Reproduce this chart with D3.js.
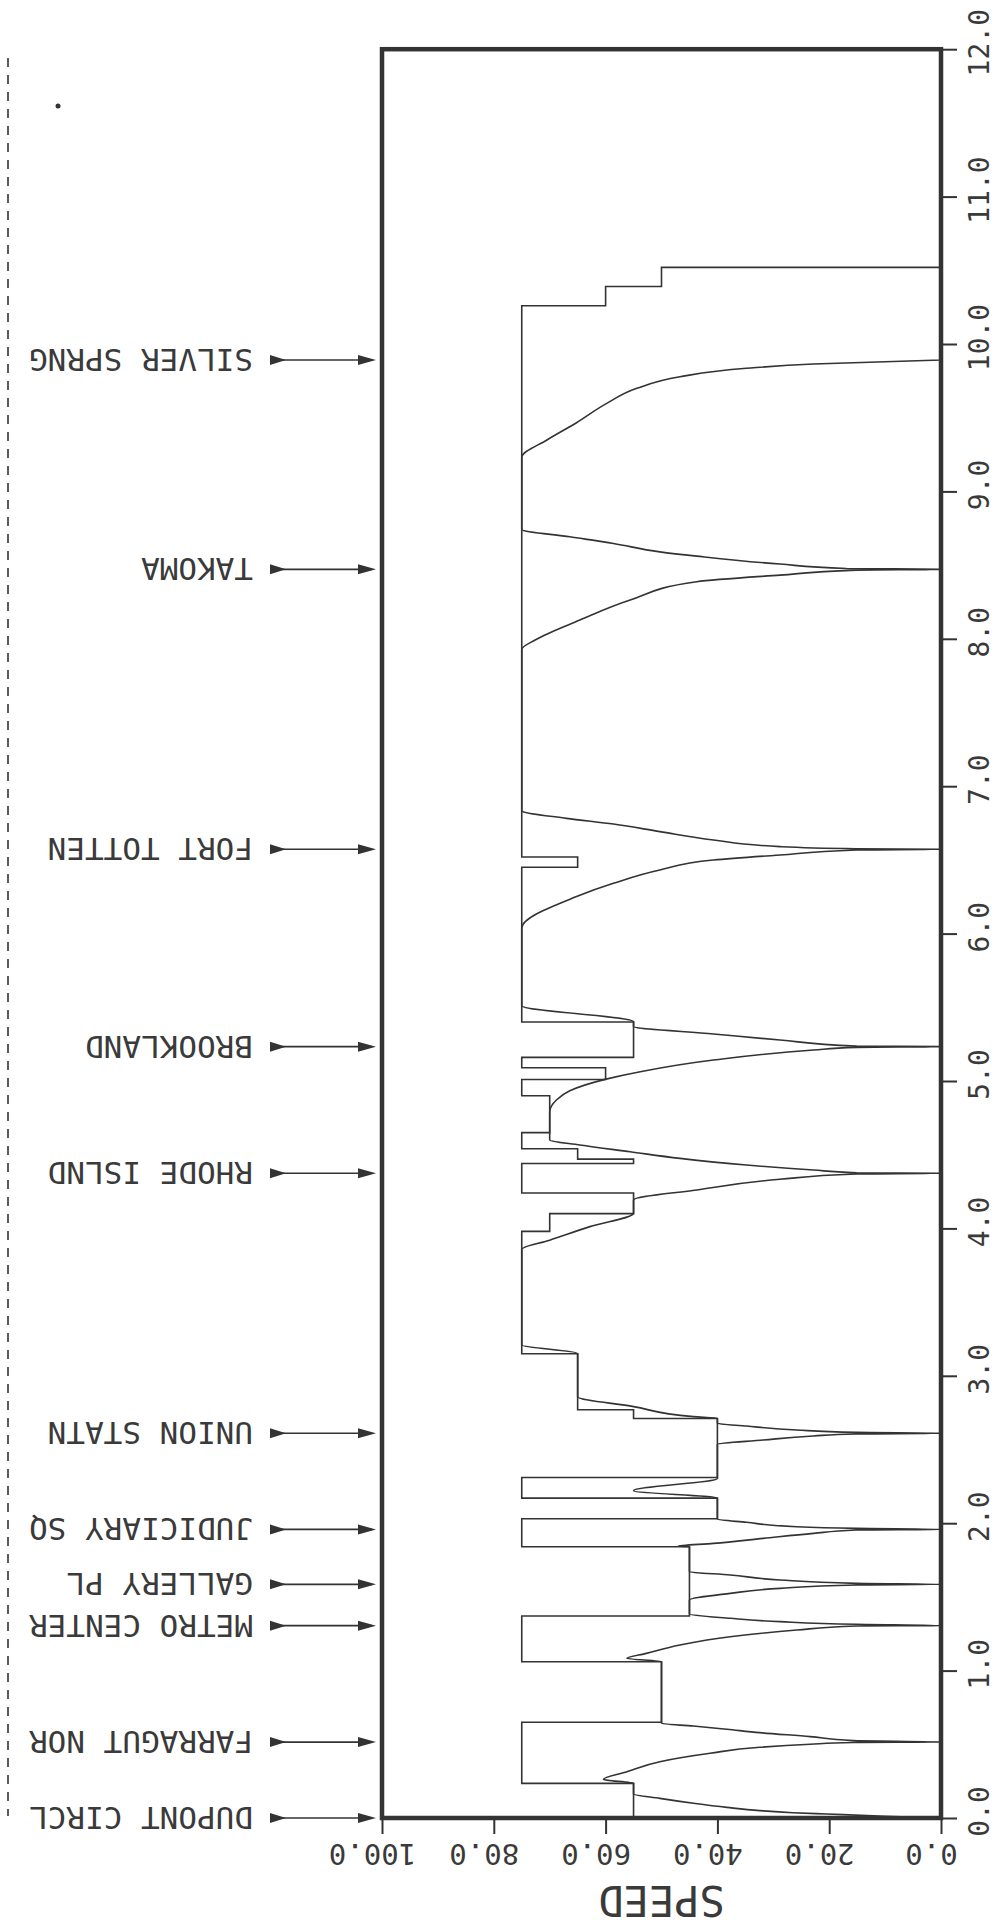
<!DOCTYPE html>
<html><head><meta charset="utf-8">
<script src="https://cdn.jsdelivr.net/npm/d3@7"></script>
<style>
html,body{margin:0;padding:0;background:#fff;}
svg text{font-family:"DejaVu Sans Mono","Liberation Mono",monospace;fill:#3a3a3a;}
</style></head>
<body>
<script>
// ---------- DATA ----------
const distTicks = [0,1,2,3,4,5,6,7,8,9,10,11,12];
const speedTicks = [0,20,40,60,80,100];
const stationNames = ["DUPONT CIRCL","FARRAGUT NOR","METRO CENTER","GALLERY PL","JUDICIARY SQ","UNION STATN","RHODE ISLND","BROOKLAND","FORT TOTTEN","TAKOMA","SILVER SPRNG"];
const stationDist = [0.0,0.515,1.305,1.585,1.958,2.610,4.374,5.233,6.572,8.471,9.891];

// speed limit: segment starts (miles), speeds (mph), end of last segment
const limitStart = [0,0.235,0.65,1.06,1.37,1.84,2.03,2.17,2.31,2.71,2.77,3.15,3.98,4.10,4.24,4.44,4.47,4.54,4.65,4.90,5.01,5.09,5.16,5.40,6.45,6.52,10.26,10.39];
const limitSpeed = [55,75,50,75,45,75,40,75,40,55,65,75,70,55,75,55,65,75,70,75,60,75,55,75,65,75,60,50];
const limitEnd = 10.52;

// train speed profile
const trainDist = [0,0.012,0.027,0.036,0.05,0.072,0.10,0.133,0.163,0.235,0.262,0.314,0.382,0.439,0.48,0.50,0.512,0.515,
 0.525,0.552,0.579,0.602,0.624,0.642,1.06,1.083,1.117,1.174,1.230,1.275,1.303,1.305,
 1.314,1.332,1.355,1.384,1.479,1.524,1.558,1.581,1.585,
 1.592,1.615,1.649,1.671,1.841,1.845,1.863,1.897,1.931,1.954,1.958,
 1.965,1.976,2.006,2.028,2.169,2.221,2.304,2.535,2.564,2.592,2.605,2.610,
 2.616,2.632,2.659,2.678,2.711,2.723,2.791,2.858,3.152,3.209,3.858,3.92,4.012,4.102,4.193,4.261,4.333,4.369,4.374,
 4.378,4.396,4.430,4.475,4.52,4.566,4.60,4.79,4.871,4.934,5.011,5.063,5.142,5.21,5.228,5.233,
 5.237,5.278,5.319,5.369,5.402,5.511,6.036,6.251,6.341,6.431,6.499,6.533,6.567,6.572,
 6.576,6.59,6.635,6.692,6.743,6.782,6.834,7.928,7.992,8.127,8.263,8.387,8.432,8.466,8.471,
 8.477,8.507,8.561,8.59,8.647,8.692,8.742,9.231,9.349,9.466,9.597,9.699,9.778,9.835,9.864,9.891];
const trainSpeed = [0,10,20.4,26.5,32.4,38.3,44.3,50.3,55,55,60.4,56.2,50.3,41.3,32.4,23.4,15.7,0,
 15.7,23.4,32.4,38.3,44.3,50,50,56.2,52.7,46.7,37.7,25.8,15.1,0,
 15.1,28.8,37.7,45,45,37.7,28.8,15.1,0,
 15.1,28.8,37.7,45,45,47,40.7,31.8,22.8,15.1,0,
 15.1,25.8,34.8,40,40,55,40,40,31.8,22.8,15.1,0,
 15.1,25.8,34.8,40,40,44.3,55,65,65,75,75,70,62.8,55,55,43.7,28.8,15.1,0,
 15.1,22.8,34.8,46.7,55.6,64.6,70,70,68.8,66.4,60.1,53.8,40.7,22.8,15.1,0,
 15.1,28.8,40.7,55,55,75,75,65.2,58.6,50.3,40.7,28.8,15.1,0,
 15.1,28.8,40.7,50.3,58.6,67,75,75,72.6,64.6,55.6,43.7,28.8,15.1,0,
 16.9,28.8,43.7,50.3,58.6,66.4,75,75,70.5,65.2,59.8,54.4,46.7,34.8,22.8,0];

// ---------- DRAWING ----------
const W = 1004, H = 1925;
const svg = d3.select("body").append("svg").attr("width",W).attr("height",H);
const ink = "#333";

const y = d3.scaleLinear().domain([0,12]).range([1818,49.2]);   // distance (vertical)
const x = d3.scaleLinear().domain([0,100]).range([941,382]);    // speed (horizontal, reversed)

// edge dashed line and dot
svg.append("line").attr("x1",8).attr("x2",8).attr("y1",58).attr("y2",1816)
  .attr("stroke",ink).attr("stroke-width",1.6).attr("stroke-dasharray","9,8");
svg.append("circle").attr("cx",58).attr("cy",106).attr("r",2.5).attr("fill",ink);

// right axis (distance)
const gR = svg.append("g").attr("transform",`translate(${x(0)},0)`)
  .call(d3.axisRight(y).tickValues(distTicks).tickSize(16).tickFormat(d3.format(".1f")));
gR.select(".domain").remove();
gR.selectAll("line").attr("stroke",ink).attr("stroke-width",2);
gR.selectAll("text").attr("x",null).attr("dy",null)
  .attr("transform","translate(38,-7) rotate(-90)")
  .attr("text-anchor","middle").attr("dominant-baseline","central")
  .attr("font-size",28).attr("fill","#3a3a3a");

// bottom axis (speed)
const gB = svg.append("g").attr("transform",`translate(0,${y(0)})`)
  .call(d3.axisBottom(x).tickValues(speedTicks).tickSize(16).tickFormat(d3.format(".1f")));
gB.select(".domain").remove();
gB.selectAll("line").attr("stroke",ink).attr("stroke-width",2);
gB.selectAll("text").attr("y",null).attr("dy",null)
  .attr("transform","translate(-10,36) rotate(180)")
  .attr("text-anchor","middle").attr("dominant-baseline","central")
  .attr("font-size",29).attr("fill","#3a3a3a");

// axis title
svg.append("text").attr("transform",`translate(${(x(0)+x(100))/2},1900) rotate(180)`)
  .attr("text-anchor","middle").attr("dominant-baseline","central")
  .attr("font-size",42).text("SPEED");

// station labels and arrows
const st = svg.append("g").selectAll("g").data(stationNames.map((n,i)=>({n,d:stationDist[i]})))
  .join("g").attr("transform",d=>`translate(0,${y(d.d)})`);
st.append("text").attr("transform","translate(253,0) rotate(180)")
  .attr("text-anchor","start").attr("dominant-baseline","central")
  .attr("font-size",31).text(d=>d.n);
st.append("line").attr("x1",272).attr("x2",372).attr("y1",0).attr("y2",0)
  .attr("stroke",ink).attr("stroke-width",1.6);
st.append("path").attr("d","M270,-5 L286,0 L270,5 Z").attr("fill",ink);
st.append("path").attr("d","M358,-5 L376,0 L358,5 Z").attr("fill",ink);

// speed limit step line
const limitPts = [];
limitStart.forEach((d0,i)=>{
  const d1 = i < limitStart.length-1 ? limitStart[i+1] : limitEnd;
  limitPts.push([d0,limitSpeed[i]],[d1,limitSpeed[i]]);
});
limitPts.push([limitEnd,0]);
const stepLine = d3.line().x(p=>x(p[1])).y(p=>y(p[0]));
svg.append("path").attr("d",stepLine(limitPts)).attr("fill","none")
  .attr("stroke",ink).attr("stroke-width",1.6).attr("stroke-linejoin","miter");

// train profile (smooth through the read points)
const trainPts = trainDist.map((d,i)=>[d,trainSpeed[i]]);
const curveLine = d3.line().x(p=>x(p[1])).y(p=>y(p[0])).curve(d3.curveMonotoneY);
svg.append("path").attr("d",curveLine(trainPts)).attr("fill","none")
  .attr("stroke",ink).attr("stroke-width",1.6).attr("stroke-linejoin","round");

// frame
svg.append("rect").attr("x",x(100)).attr("y",y(12)).attr("width",x(0)-x(100)).attr("height",y(0)-y(12))
  .attr("fill","none").attr("stroke",ink).attr("stroke-width",4.5);
</script>
</body></html>
